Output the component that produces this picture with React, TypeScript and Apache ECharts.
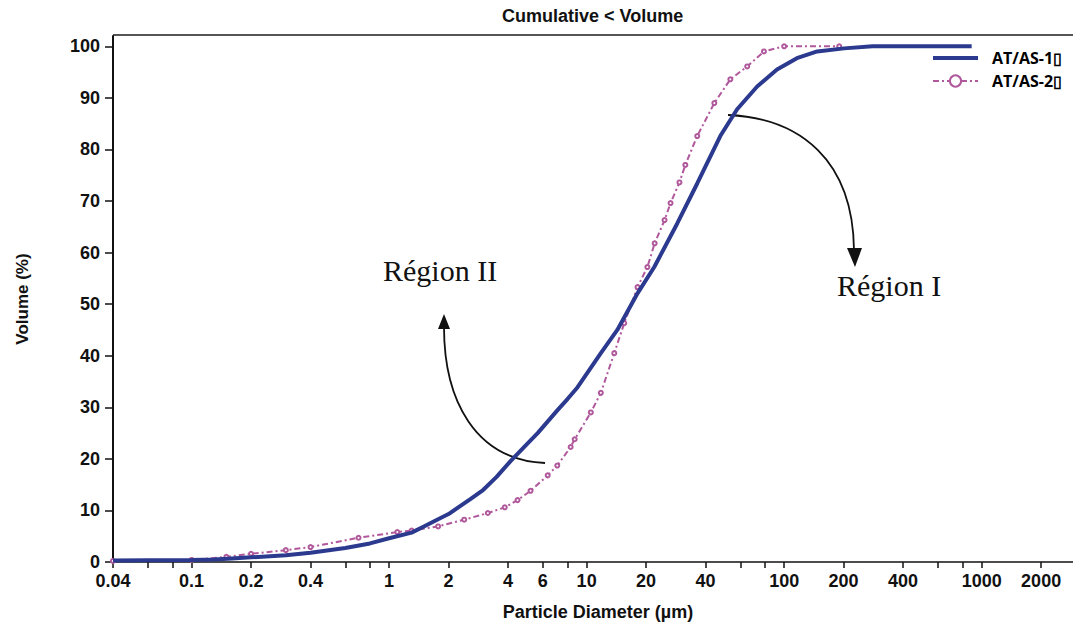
import React, { useEffect, useRef } from "react";
import * as echarts from "echarts";

// AT/AS-1 (blue): particle diameter (µm) and cumulative volume (%)
const blueDiam = [0.04, 0.06, 0.1, 0.13, 0.16, 0.2, 0.3, 0.4, 0.6, 0.8, 1.0, 1.3, 1.5, 1.77, 2.0, 2.6, 3.0, 3.5, 4.13, 5.0, 5.65, 7.14, 8.0, 9.0, 11.8, 14.3, 18.1, 22.0, 28.8, 36.3, 47.5, 57.8, 73, 92, 116, 147, 201, 280, 500, 890];
const blueVol = [0.3, 0.35, 0.4, 0.5, 0.7, 0.9, 1.3, 1.8, 2.7, 3.6, 4.6, 5.7, 6.9, 8.3, 9.3, 12.3, 14.0, 16.5, 19.6, 22.9, 25.0, 29.5, 31.6, 33.9, 40.5, 45.0, 52.1, 57.2, 65.7, 73.4, 82.6, 87.8, 92.2, 95.5, 97.7, 99.0, 99.6, 100, 100, 100];

// AT/AS-2 (pink)
const pinkDiam = [0.04, 0.1, 0.15, 0.2, 0.3, 0.4, 0.7, 1.1, 1.3, 1.77, 2.4, 3.16, 3.85, 4.47, 5.2, 6.35, 7.1, 8.3, 8.7, 10.5, 11.8, 13.8, 15.5, 18.1, 20.3, 22.1, 24.8, 26.6, 29.5, 31.6, 36.3, 44.3, 53.4, 65, 79, 100, 190];
const pinkVol = [0.2, 0.4, 1.0, 1.6, 2.3, 2.9, 4.7, 5.8, 6.1, 6.9, 8.2, 9.5, 10.6, 12.0, 13.8, 16.8, 18.7, 22.3, 23.8, 29.0, 32.8, 40.5, 46.3, 53.3, 57.2, 61.8, 66.3, 69.6, 73.6, 77.0, 82.6, 89.0, 93.6, 96.1, 99.0, 100, 100];

const tickDiam = [0.04, 0.06, 0.08, 0.1, 0.2, 0.4, 0.6, 0.8, 1, 2, 4, 6, 8, 10, 20, 40, 60, 80, 100, 200, 400, 600, 800, 1000, 2000];
const labelDiam = [0.04, 0.1, 0.2, 0.4, 1, 2, 4, 6, 10, 20, 40, 100, 200, 400, 1000, 2000];
const yTicks = [0, 10, 20, 30, 40, 50, 60, 70, 80, 90, 100];

const seriesNames = ["AT/AS-1", "AT/AS-2"];

const lg = (v: number) => Math.log10(v);

export default function App() {
  const ref = useRef<HTMLDivElement>(null);

  useEffect(() => {
    document.body.style.margin = "0";
    const chart = echarts.init(ref.current!, null, { renderer: "svg" });
    const font = "'Liberation Sans', Arial, sans-serif";
    const blue = "#2b3a8e";
    const pink = "#b0589c";

    chart.setOption({
      animation: false,
      backgroundColor: "#ffffff",
      title: {
        text: "Cumulative < Volume",
        left: 502,
        top: 7,
        padding: 0,
        textStyle: { fontFamily: font, fontWeight: "bold", fontSize: 18, color: "#111" },
      },
      grid: { left: 113, right: 0, top: 36, bottom: 66 },
      legend: {
        orient: "vertical",
        left: 927,
        top: 45,
        itemWidth: 45,
        itemHeight: 14,
        itemGap: 7,
        data: [{ name: seriesNames[0], icon: "path://M0,0H45V4H0Z" }, { name: seriesNames[1] }],
        formatter: (n: string) => n + "\u25AF",
        textStyle: {
          fontFamily: "'Open Sans', 'Liberation Sans', sans-serif",
          fontWeight: "bold",
          fontSize: 16,
          color: "#000",
          padding: [0, 0, 0, 9],
        },
      },
      xAxis: {
        type: "value",
        min: lg(0.04),
        max: lg(2900),
        splitLine: { show: false },
        axisLine: { show: true, onZero: false, lineStyle: { color: "#111", width: 1.5 } },
        axisTick: {
          show: true,
          customValues: tickDiam.map(lg),
          length: 6,
          lineStyle: { color: "#111", width: 1.5 },
        },
        axisLabel: {
          customValues: labelDiam.map(lg),
          formatter: (v: number) => String(Number(Math.pow(10, v).toPrecision(2))),
          margin: 10,
          fontSize: 18,
          fontWeight: "bold",
          color: "#111",
          fontFamily: font,
        },
        name: "Particle Diameter (µm)",
        nameLocation: "middle",
        nameGap: 41,
        nameTextStyle: { fontFamily: font, fontWeight: "bold", fontSize: 18, color: "#111", padding: [0, 0, 0, 10] },
      },
      yAxis: {
        type: "value",
        min: 0,
        max: 102,
        splitLine: { show: false },
        axisLine: { show: true, onZero: false, lineStyle: { color: "#111", width: 2 } },
        axisTick: { show: true, customValues: yTicks, length: 8, lineStyle: { color: "#111", width: 1.5 } },
        axisLabel: {
          customValues: yTicks,
          margin: 13,
          fontSize: 18,
          fontWeight: "bold",
          color: "#111",
          fontFamily: font,
        },
        name: "Volume (%)",
        nameLocation: "middle",
        nameGap: 82,
        nameTextStyle: { fontFamily: font, fontWeight: "bold", fontSize: 17, color: "#111" },
      },
      series: [
        {
          name: seriesNames[0],
          type: "line",
          data: blueDiam.map((d, i) => [lg(d), blueVol[i]]),
          symbol: "none",
          lineStyle: { color: blue, width: 4 },
          itemStyle: { color: blue },
          z: 3,
        },
        {
          name: seriesNames[1],
          type: "line",
          data: pinkDiam.map((d, i) => [lg(d), pinkVol[i]]),
          symbol: "emptyCircle",
          symbolSize: 4,
          lineStyle: { color: pink, width: 2, type: [6, 3, 2, 3] },
          itemStyle: { color: pink, borderWidth: 1 },
          z: 2,
        },
      ],
      graphic: [
        { type: "line", shape: { x1: 113, y1: 35, x2: 1073, y2: 35 }, style: { stroke: "#555", lineWidth: 2 } },
        {
          type: "text",
          x: 383,
          y: 270,
          style: { text: "Région II", font: "30px 'Liberation Serif', 'Times New Roman', serif", fill: "#111", verticalAlign: "middle" },
        },
        {
          type: "text",
          x: 837,
          y: 285,
          style: { text: "Région I", font: "30px 'Liberation Serif', 'Times New Roman', serif", fill: "#111", verticalAlign: "middle" },
        },
        {
          type: "bezierCurve",
          shape: { x1: 545, y1: 463, cpx1: 475, cpy1: 460, cpx2: 444, cpy2: 400, x2: 444, y2: 327 },
          style: { stroke: "#111", lineWidth: 1.8, fill: "none" },
        },
        { type: "polygon", shape: { points: [[444, 314], [438, 329], [450, 329]] }, style: { fill: "#111" } },
        {
          type: "bezierCurve",
          shape: { x1: 728, y1: 115, cpx1: 800, cpy1: 118, cpx2: 853, cpy2: 160, x2: 854, y2: 250 },
          style: { stroke: "#111", lineWidth: 1.8, fill: "none" },
        },
        { type: "polygon", shape: { points: [[855, 267], [847, 248], [862, 248]] }, style: { fill: "#111" } },
      ],
    });

    return () => chart.dispose();
  }, []);

  return <div ref={ref} style={{ width: 1073, height: 628 }} />;
}
